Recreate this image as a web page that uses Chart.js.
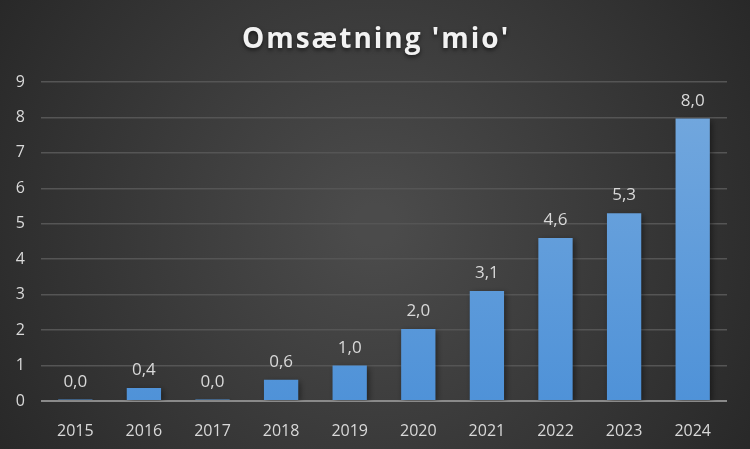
<!DOCTYPE html>
<html>
<head>
<meta charset="utf-8">
<script src="https://cdn.jsdelivr.net/npm/chart.js@4.4.1/dist/chart.umd.min.js"></script>
<style>
  html, body { margin: 0; padding: 0; background: #333; }
  #wrap { width: 750px; height: 449px; }
</style>
</head>
<body>
<div id="wrap"><canvas id="omsaetning"></canvas></div>
<script>
// data
const years = ['2015', '2016', '2017', '2018', '2019', '2020', '2021', '2022', '2023', '2024'];
const revenue = [0.04, 0.37, 0.04, 0.6, 1.0, 2.03, 3.1, 4.6, 5.3, 7.97];
const yTicks = [0, 1, 2, 3, 4, 5, 6, 7, 8, 9];
const chartTitle = "Omsætning 'mio'";

const fmt = v => v.toFixed(1).replace('.', ',');

// dark radial background + title
const backdrop = {
  id: 'backdrop',
  beforeDraw(chart) {
    const { ctx, width, height } = chart;
    ctx.save();
    const g = ctx.createRadialGradient(width * 0.5, height * 0.5, 20, width * 0.5, height * 0.5, width * 0.62);
    g.addColorStop(0, '#4b4b4b');
    g.addColorStop(1, '#262626');
    ctx.fillStyle = g;
    ctx.fillRect(0, 0, width, height);
    ctx.restore();
  },
  afterDraw(chart) {
    const { ctx, width } = chart;
    ctx.save();
    ctx.font = 'bold 28px "Open Sans", sans-serif';
    ctx.letterSpacing = '2px';
    ctx.textAlign = 'center';
    ctx.textBaseline = 'middle';
    ctx.shadowColor = 'rgba(0,0,0,0.6)';
    ctx.shadowBlur = 4;
    ctx.shadowOffsetY = 2;
    ctx.fillStyle = '#f2f2f2';
    ctx.fillText(chartTitle, width / 2 + 1, 40);
    ctx.restore();
  }
};

// value labels above the bars
const valueLabels = {
  id: 'valueLabels',
  afterDatasetsDraw(chart) {
    const { ctx } = chart;
    const meta = chart.getDatasetMeta(0);
    ctx.save();
    ctx.font = '17px "Open Sans", sans-serif';
    ctx.fillStyle = '#d9d9d9';
    ctx.textAlign = 'center';
    ctx.textBaseline = 'alphabetic';
    meta.data.forEach((bar, i) => {
      ctx.fillText(fmt(revenue[i]), bar.x, bar.y - 13);
    });
    ctx.restore();
  }
};

// soft shadow under the bars
const barShadow = {
  id: 'barShadow',
  beforeDatasetsDraw(chart) {
    const ctx = chart.ctx;
    ctx.save();
    ctx.shadowColor = 'rgba(0,0,0,0.45)';
    ctx.shadowBlur = 6;
    ctx.shadowOffsetX = 2;
    ctx.shadowOffsetY = 2;
  },
  afterDatasetsDraw(chart) {
    chart.ctx.restore();
  }
};

const ctx = document.getElementById('omsaetning').getContext('2d');
new Chart(ctx, {
  type: 'bar',
  plugins: [backdrop, barShadow, valueLabels],
  data: {
    labels: years,
    datasets: [{
      data: revenue,
      backgroundColor(context) {
        const area = context.chart.chartArea;
        if (!area) return '#5b9bd5';
        const g = context.chart.ctx.createLinearGradient(0, area.top, 0, area.bottom);
        g.addColorStop(0, '#75a9de');
        g.addColorStop(1, '#4f92d8');
        return g;
      },
      borderWidth: 0,
      barPercentage: 0.5,
      categoryPercentage: 1.0
    }]
  },
  options: {
    responsive: true,
    maintainAspectRatio: false,
    animation: false,
    layout: { padding: { left: 0, right: 23, top: 82, bottom: 0 } },
    plugins: {
      legend: { display: false },
      title: { display: false },
      tooltip: { enabled: false }
    },
    scales: {
      x: {
        afterFit(scale) { scale.height = 48; },
        grid: { display: false },
        border: { display: false },
        ticks: {
          color: '#d9d9d9',
          font: { family: '"Open Sans", sans-serif', size: 16 },
          padding: 13
        }
      },
      y: {
        min: 0,
        max: 9,
        afterFit(scale) { scale.width = 41; },
        afterBuildTicks(scale) { scale.ticks = yTicks.map(v => ({ value: v })); },
        border: { display: false },
        grid: {
          drawTicks: false,
          color: c => c.tick && c.tick.value === 0 ? '#8a8a8a' : '#555555',
          lineWidth: c => c.tick && c.tick.value === 0 ? 2 : 1.5
        },
        ticks: {
          color: '#d9d9d9',
          font: { family: '"Open Sans", sans-serif', size: 16 },
          padding: 16
        }
      }
    }
  }
});
</script>
</body>
</html>
